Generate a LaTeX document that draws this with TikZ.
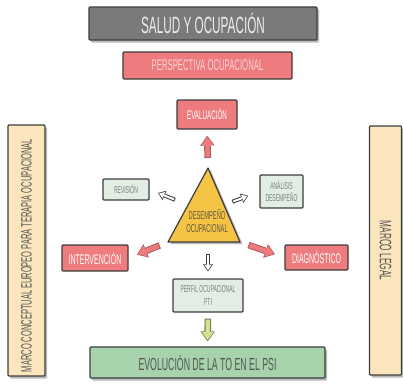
\documentclass[tikz,border=0pt]{standalone}
\usepackage{fontspec}
\newfontfamily\handfont[FakeStretch=0.5]{Liberation Sans}
\usetikzlibrary{arrows.meta,calc,shadows}
\definecolor{ink}{HTML}{3D3D3D}
\definecolor{slate}{HTML}{7A7A7A}
\definecolor{rose}{HTML}{EE7B7E}
\definecolor{blush}{HTML}{F9D3D3}
\definecolor{mint}{HTML}{E2EEE4}
\definecolor{leaf}{HTML}{A6D3AB}
\definecolor{cream}{HTML}{FBE5BC}
\definecolor{mustard}{HTML}{F6C445}
\definecolor{lime}{HTML}{D8DF8E}
\definecolor{greytext}{HTML}{7D7D7D}
\definecolor{darktext}{HTML}{555555}

\tikzset{
  box/.style={draw=ink, line width=1.2pt, rounded corners=1pt, inner sep=0pt, align=center, font=\handfont},
  bigbox/.style={box, drop shadow={shadow xshift=2pt, shadow yshift=-2.5pt, fill=gray!55, opacity=1}},
  redbox/.style={box, fill=rose, text=white},
  mintbox/.style={box, fill=mint, text=greytext},
  fatrim/.style={line width=6.6pt, draw=#1, -{Triangle[length=10pt,width=14.5pt,line width=0pt]}},
  fatcore/.style={line width=4.4pt, draw=#1, -{Triangle[length=8pt,width=11.5pt,line width=0pt]}, shorten >=1.3pt, shorten <=1pt},
  thinrim/.style={line width=4pt, draw=ink, -{Triangle[length=7pt,width=10pt,line width=0pt]}},
  thincore/.style={line width=2pt, draw=white, -{Triangle[length=5pt,width=7pt,line width=0pt]}, shorten >=1.3pt, shorten <=1pt}
}

\begin{document}
\begin{tikzpicture}[x=1pt,y=-1pt]
\useasboundingbox (0,0) rectangle (403,383);

% header
\node[bigbox, fill=slate, text=white!93!black, minimum width=228pt, minimum height=33pt, font=\handfont\fontsize{23.5}{24}\selectfont] (title) at (203,23.5) {SALUD Y OCUPACIÓN};
\node[box, fill=rose, text=blush, minimum width=169pt, minimum height=27pt, font=\handfont\fontsize{15.5}{16}\selectfont] (persp) at (207.5,65.5) {PERSPECTIVA OCUPACIONAL};

% side frames
\node[bigbox, fill=cream, minimum width=37pt, minimum height=251pt] (euro) at (26.5,250.5) {};
\node[font=\handfont\fontsize{15}{16}\selectfont, text=darktext, rotate=90] (eurotext) at ([yshift=-5pt]euro.center) {MARCO CONCEPTUAL EUROPEO PARA TERAPIA OCUPACIONAL};
\node[bigbox, fill=cream, minimum width=32pt, minimum height=249pt] (legal) at (385.5,250.5) {};
\node[font=\handfont\fontsize{16.5}{17}\selectfont, text=darktext, rotate=-90] (legaltext) at (legal.center) {MARCO LEGAL};

% central triangle
\coordinate (apex) at (208,168);
\coordinate (tl) at (168,242);
\coordinate (tr) at (240,242);
\coordinate (tbase) at (208,242);
\filldraw[fill=mustard, draw=ink, line width=1.2pt, line join=round, drop shadow={shadow xshift=2.5pt, shadow yshift=-2pt, fill=gray!55, opacity=1}] (apex) -- (tl) -- (tr) -- cycle;
\node[font=\handfont\fontsize{11.5}{13.5}\selectfont, text=ink!80!mustard, align=center] (des) at (207,221) {DESEMPEÑO\\OCUPACIONAL};

% stages
\node[redbox, minimum width=60pt, minimum height=29pt, font=\handfont\fontsize{12.5}{13}\selectfont] (eval) at (207,114.5) {EVALUACIÓN};
\node[mintbox, minimum width=46pt, minimum height=21pt, font=\handfont\fontsize{10}{11}\selectfont] (rev) at (126,189.5) {REVISIÓN};
\node[mintbox, minimum width=43pt, minimum height=33pt, font=\handfont\fontsize{10}{12}\selectfont] (anal) at (281.5,191.5) {ANÁLISIS\\DESEMPEÑO};
\node[redbox, minimum width=66pt, minimum height=26pt, font=\handfont\fontsize{14}{15}\selectfont] (interv) at (95,258) {INTERVENCIÓN};
\node[redbox, minimum width=63pt, minimum height=25pt, font=\handfont\fontsize{14}{15}\selectfont] (diag) at (316.5,257.5) {DIAGNÓSTICO};
\node[mintbox, minimum width=70pt, minimum height=33pt, font=\handfont\fontsize{10}{12.5}\selectfont] (perfil) at (208,295.5) {PERFIL OCUPACIONAL\\PTI};
\node[bigbox, fill=leaf, text=darktext, minimum width=235pt, minimum height=31pt, font=\handfont\fontsize{17.5}{18}\selectfont] (evol) at (207.5,362.5) {EVOLUCIÓN DE LA TO EN EL PSI};

% arrow ends
\coordinate (u1) at ($(apex)!10pt!(eval.south)$);
\coordinate (u2) at ($(eval.south)!6pt!(apex)$);
\coordinate (l1) at ($(tl)!9pt!(interv.east)$);
\coordinate (l2) at ($(interv.east)!9pt!(tl)$);
\coordinate (r1) at ($(tr)!9pt!(diag.west)$);
\coordinate (r2) at ($(diag.west)!10pt!(tr)$);
\coordinate (m1) at ($(apex)!0.5!(tl)$);
\coordinate (m2) at ($(apex)!0.5!(tr)$);
\coordinate (v1) at ($(m1)!14pt!(rev.east)$);
\coordinate (v2) at ($(rev.east)!9pt!(m1)$);
\coordinate (a1) at ($(m2)!9pt!(anal.west)$);
\coordinate (a2) at ($(anal.west)!12pt!(m2)$);
\coordinate (d1) at ($(tbase)!12pt!(perfil.north)$);
\coordinate (d2) at ($(perfil.north)!7pt!(tbase)$);
\coordinate (e1) at ($(perfil.south)!6pt!(evol.north)$);
\coordinate (e2) at ($(evol.north)!5pt!(perfil.south)$);

% arrows
\draw[fatrim=rose!75!black] (u1) -- (u2);
\draw[fatcore=rose] (u1) -- (u2);
\draw[fatrim=rose!75!black] (l1) -- (l2);
\draw[fatcore=rose] (l1) -- (l2);
\draw[fatrim=rose!75!black] (r1) -- (r2);
\draw[fatcore=rose] (r1) -- (r2);
\draw[fatrim=lime!55!black] (e1) -- (e2);
\draw[fatcore=lime] (e1) -- (e2);
\draw[thinrim] (v1) -- (v2);
\draw[thincore] (v1) -- (v2);
\draw[thinrim] (a1) -- (a2);
\draw[thincore] (a1) -- (a2);
\draw[thinrim] (d1) -- (d2);
\draw[thincore] (d1) -- (d2);
\end{tikzpicture}
\end{document}
